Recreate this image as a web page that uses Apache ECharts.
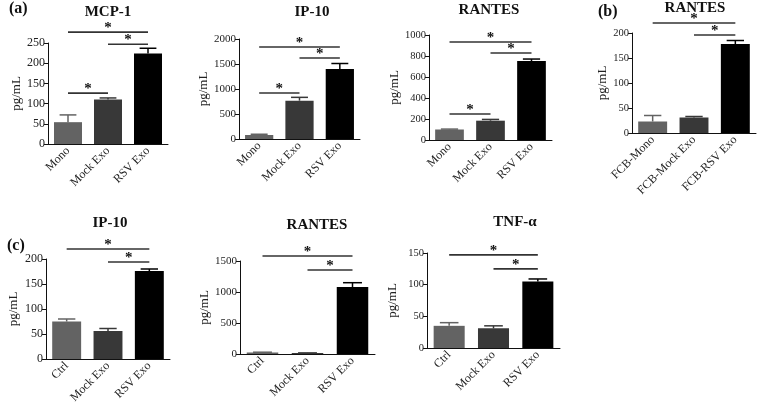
<!DOCTYPE html>
<html>
<head>
<meta charset="utf-8">
<script src="https://cdn.jsdelivr.net/npm/echarts@6/dist/echarts.min.js"></script>
<style>
  html, body { margin: 0; padding: 0; background: #fff; }
  #chart { width: 760px; height: 407px; }
</style>
</head>
<body>
<div id="chart"></div>
<script>
// categories
const catsA = ['Mono', 'Mock Exo', 'RSV Exo'];
const catsB = ['FCB-Mono', 'FCB-Mock Exo', 'FCB-RSV Exo'];
const catsC = ['Ctrl', 'Mock Exo', 'RSV Exo'];

// means and upper error (SEM) per panel
const mcp1Mean = [54, 110, 224];
const mcp1Err = [18, 4, 13];
const ip10aMean = [80, 767, 1400];
const ip10aErr = [15, 66, 110];
const rantesAMean = [100, 184, 752];
const rantesAErr = [4, 12, 19];
const rantesBMean = [23, 31, 178];
const rantesBErr = [12, 2, 7];
const ip10cMean = [75, 56, 176];
const ip10cErr = [5, 5, 4];
const rantesCMean = [25, 15, 1080];
const rantesCErr = [4, 3, 70];
const tnfMean = [35, 31, 105];
const tnfErr = [5, 4, 4];

// significance brackets: [from, to, height]
const sigMcp1 = [[0, 1, 126], [0, 2, 277], [1, 2, 247]];
const sigIp10a = [[0, 1, 920], [0, 2, 1840], [1, 2, 1620]];
const sigRantesA = [[0, 1, 248], [0, 2, 933], [1, 2, 829]];
const sigRantesB = [[0, 2, 220], [1, 2, 196]];
const sigIp10c = [[0, 2, 220], [1, 2, 194]];
const sigRantesC = [[0, 2, 1581], [1, 2, 1355]];
const sigTnf = [[0, 2, 147], [1, 2, 125]];

// y axis ranges
const yMax = [250, 2000, 1000, 200, 200, 1500, 150];
const yStep = [50, 500, 200, 50, 50, 500, 50];

const barColors = ['#636363', '#383838', '#000000'];
const FONT = '"Liberation Serif", "DejaVu Serif", serif';

const panels = [
  { title: 'MCP-1', cats: catsA, mean: mcp1Mean, err: mcp1Err, sig: sigMcp1,
    grid: { left: 48, top: 43, width: 120, height: 101 }, tx: 108, ty: 5, fs: 12, gap: 21 },
  { title: 'IP-10', cats: catsA, mean: ip10aMean, err: ip10aErr, sig: sigIp10a,
    grid: { left: 239, top: 39, width: 121, height: 100 }, tx: 312, ty: 5, fs: 11, gap: 26 },
  { title: 'RANTES', cats: catsA, mean: rantesAMean, err: rantesAErr, sig: sigRantesA,
    grid: { left: 429, top: 35, width: 123, height: 105 }, tx: 489, ty: 3, fs: 10.5, gap: 22 },
  { title: 'RANTES', cats: catsB, mean: rantesBMean, err: rantesBErr, sig: sigRantesB,
    grid: { left: 632, top: 33, width: 124, height: 100 }, tx: 695, ty: 1, fs: 10.5, gap: 18 },
  { title: 'IP-10', cats: catsC, mean: ip10cMean, err: ip10cErr, sig: sigIp10c,
    grid: { left: 46, top: 259, width: 124, height: 100 }, tx: 110, ty: 216, fs: 12, gap: 26 },
  { title: 'RANTES', cats: catsC, mean: rantesCMean, err: rantesCErr, sig: sigRantesC,
    grid: { left: 240, top: 261, width: 135, height: 93 }, tx: 317, ty: 218, fs: 11, gap: 28 },
  { title: 'TNF-α', cats: catsC, mean: tnfMean, err: tnfErr, sig: sigTnf,
    grid: { left: 427, top: 253, width: 133, height: 95 }, tx: 515, ty: 215, fs: 10.5, gap: 28 }
];

const chart = echarts.init(document.getElementById('chart'));

const grids = [], xAxes = [], yAxes = [], series = [], titles = [];

panels.forEach((p, i) => {
  grids.push(p.grid);
  titles.push({
    text: p.title, left: p.tx, top: p.ty, textAlign: 'center', padding: 0,
    textStyle: { fontFamily: FONT, fontWeight: 'bold', fontSize: 15, color: '#111' }
  });
  xAxes.push({
    type: 'category', gridIndex: i, data: p.cats,
    axisLine: { lineStyle: { color: '#111', width: 1 } },
    axisTick: { alignWithLabel: true, length: 4, lineStyle: { color: '#111' } },
    axisLabel: { rotate: 45, margin: 5, fontFamily: FONT, fontSize: 12, color: '#222', interval: 0 }
  });
  yAxes.push({
    type: 'value', gridIndex: i, min: 0, max: yMax[i], interval: yStep[i],
    name: 'pg/mL', nameLocation: 'middle', nameRotate: 90, nameGap: p.gap,
    nameTextStyle: { fontFamily: FONT, fontSize: 13, color: '#222' },
    axisLine: { show: true, lineStyle: { color: '#111', width: 1 } },
    axisTick: { show: true, length: 4, lineStyle: { color: '#111' } },
    axisLabel: { margin: 3, fontFamily: FONT, fontSize: p.fs, color: '#222',
                 formatter: (v) => String(v) },
    splitLine: { show: false }
  });
  series.push({
    type: 'bar', xAxisIndex: i, yAxisIndex: i,
    barCategoryGap: '30%',
    data: p.mean.map((v, k) => ({ value: v, itemStyle: { color: barColors[k] } })),
    silent: true
  });
  // upper error bars
  series.push({
    type: 'custom', xAxisIndex: i, yAxisIndex: i, z: 3,
    data: p.mean.map((v, k) => [k, v, v + p.err[k]]),
    encode: { x: 0, y: [1, 2] },
    renderItem: function (params, api) {
      const k = api.value(0);
      const a = api.coord([k, api.value(1)]);
      const b = api.coord([k, api.value(2)]);
      const half = api.size([1, 0])[0] * 0.7 * 0.3;
      const style = { stroke: barColors[k], lineWidth: 1.5 };
      return {
        type: 'group', children: [
          { type: 'line', shape: { x1: a[0], y1: a[1], x2: b[0], y2: b[1] }, style },
          { type: 'line', shape: { x1: b[0] - half, y1: b[1], x2: b[0] + half, y2: b[1] }, style }
        ]
      };
    },
    silent: true
  });
  // significance lines
  series.push({
    type: 'custom', xAxisIndex: i, yAxisIndex: i, z: 4, clip: false,
    data: p.sig,
    encode: { x: [0, 1], y: 2 },
    renderItem: function (params, api) {
      const a = api.coord([api.value(0), api.value(2)]);
      const b = api.coord([api.value(1), api.value(2)]);
      return {
        type: 'group', children: [
          { type: 'line', shape: { x1: a[0], y1: a[1], x2: b[0], y2: b[1] },
            style: { stroke: '#333', lineWidth: 1.6 } },
          { type: 'text', x: (a[0] + b[0]) / 2, y: a[1] - 4,
            style: { text: '*', fill: '#111', font: 'bold 15px ' + FONT,
                     align: 'center', verticalAlign: 'middle' } }
        ]
      };
    },
    silent: true
  });
});

// panel letters
const letterStyle = { fontFamily: FONT, fontWeight: 'bold', fontSize: 16, color: '#111' };
titles.push({ text: '(a)', left: 9, top: 1, padding: 0, textStyle: letterStyle });
titles.push({ text: '(b)', left: 598, top: 4, padding: 0, textStyle: letterStyle });
titles.push({ text: '(c)', left: 7, top: 238, padding: 0, textStyle: letterStyle });

chart.setOption({
  backgroundColor: '#fff',
  animation: false,
  title: titles,
  grid: grids,
  xAxis: xAxes,
  yAxis: yAxes,
  series: series
});
</script>
</body>
</html>
